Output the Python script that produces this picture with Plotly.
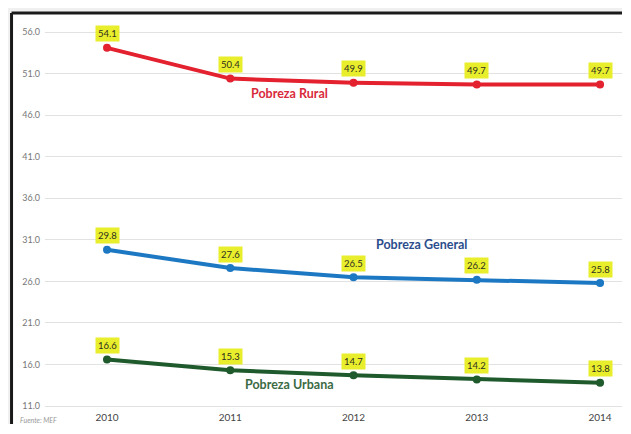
import plotly.graph_objects as go

years = [2010, 2011, 2012, 2013, 2014]
rural = [54.1, 50.4, 49.9, 49.7, 49.7]
general = [29.8, 27.6, 26.5, 26.2, 25.8]
urbana = [16.6, 15.3, 14.7, 14.2, 13.8]
y_ticks = [11.0, 16.0, 21.0, 26.0, 31.0, 36.0, 41.0, 46.0, 51.0, 56.0]

series = [
    ("Pobreza Rural", rural, "#e3212f", "#d92a3c", 2011.48, 48.6),
    ("Pobreza General", general, "#1c78c2", "#2b4d8c", 2012.55, 30.4),
    ("Pobreza Urbana", urbana, "#1f5a2c", "#3c6a44", 2011.48, 13.6),
]

fig = go.Figure()
annotations = []
for name, vals, col, lcol, lx, ly in series:
    fig.add_trace(go.Scatter(
        x=years, y=vals, mode="lines+markers", name=name,
        line=dict(color=col, width=4),
        marker=dict(color=col, size=8),
        showlegend=False, hoverinfo="skip"))
    for xv, yv in zip(years, vals):
        annotations.append(dict(
            x=xv, y=yv, text=f"{yv:.1f}", showarrow=False, yshift=14,
            font=dict(family="Lato", size=9.5, color="#2e2e1e"),
            bgcolor="#e9ee2c", borderpad=2))
    annotations.append(dict(
        x=lx, y=ly, text=f"<b>{name}</b>", showarrow=False,
        font=dict(family="Lato", size=12.5, color=lcol)))

annotations.append(dict(
    xref="paper", yref="paper", x=-0.047, y=-0.026, xanchor="left",
    yanchor="middle", text="<i>Fuente: MEF</i>", showarrow=False,
    font=dict(family="Lato", size=7, color="#9a9a9a")))

fig.update_layout(
    width=614, height=416,
    margin=dict(l=37, r=0, t=12, b=14),
    paper_bgcolor="#f0f0f0", plot_bgcolor="white",
    annotations=annotations,
    shapes=[
        dict(type="rect", xref="paper", yref="paper", x0=-0.058, x1=1.01,
             y0=-0.1, y1=1.018, fillcolor="white", line_width=0, layer="below"),
        dict(type="line", xref="paper", yref="paper", x0=-0.058, x1=1.01,
             y0=1.018, y1=1.018, line=dict(color="#1a1a1a", width=3)),
        dict(type="line", xref="paper", yref="paper", x0=-0.058, x1=-0.058,
             y0=-0.1, y1=1.018, line=dict(color="#1a1a1a", width=3)),
    ],
    xaxis=dict(range=[2009.497, 2014.178], tickvals=years,
               ticktext=[str(y) for y in years], showgrid=False,
               zeroline=False, showline=False, ticks="",
               tickfont=dict(family="Lato", size=10, color="#444444"),
               fixedrange=True),
    yaxis=dict(range=[10.52, 57.45], tickvals=y_ticks,
               ticktext=[f"{v:.1f}" for v in y_ticks],
               showgrid=True, gridcolor="#e2e2e2", gridwidth=1,
               zeroline=False, showline=False, ticks="",
               tickfont=dict(family="Lato", size=9, color="#777777"),
               ticklabelstandoff=4),
)

fig.write_html("out.html")
